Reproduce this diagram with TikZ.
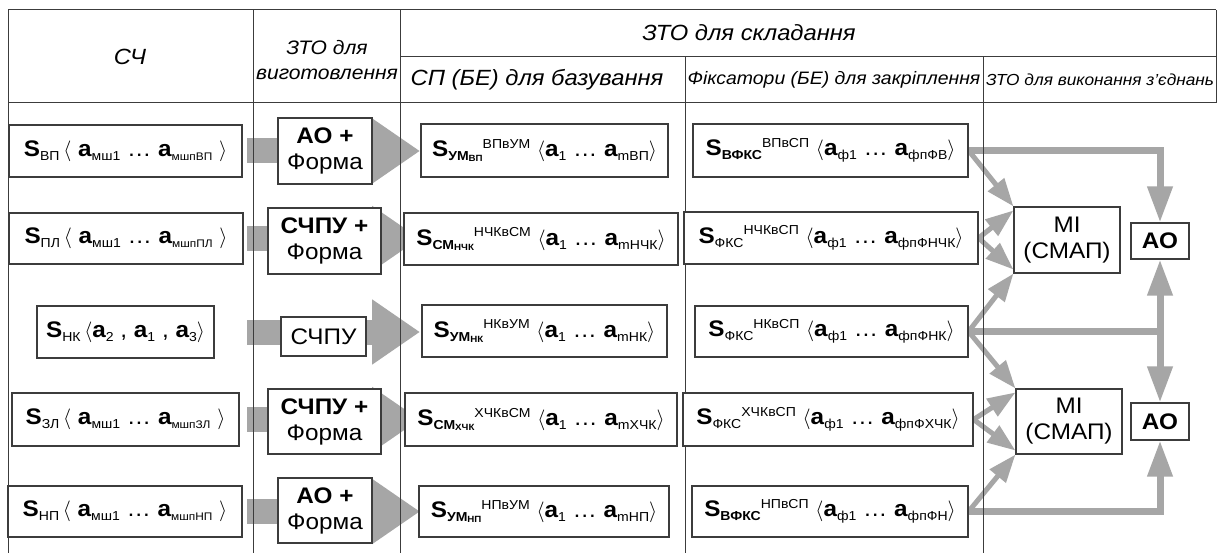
\documentclass[tikz,border=0pt]{standalone}
\usepackage{fontspec}
\usepackage{graphicx}
\setmainfont{Liberation Sans}[FakeStretch=1.08]
\usetikzlibrary{arrows.meta,calc}
\definecolor{agray}{RGB}{166,166,166}
\definecolor{lgray}{RGB}{60,60,60}
\newcommand\mysub[2][13]{\raisebox{-4pt}{\fontsize{#1}{#1}\selectfont #2}}
\newcommand\mysubb[2][9]{\raisebox{-1pt}{\fontsize{#1}{#1}\selectfont #2}}
\newcommand\mysup[2][13]{\raisebox{8.5pt}{\fontsize{#1}{#1}\selectfont #2}}
\newcommand\bS{{\bfseries S}}
\newcommand\ba{{\bfseries a}}
\newcommand\la{$\langle$}
\newcommand\ra{$\rangle$}
\tikzset{
  cell/.style={draw=lgray, line width=1.1pt, fill=white, inner sep=0pt, align=center,
    font=\fontsize{22.5}{26}\selectfont},
  hdr/.style={inner sep=0pt, align=center, font=\fontsize{22}{25}\selectfont\itshape},
  grid/.style={draw=lgray, line width=1pt},
  blockarr/.style={draw=agray, line width=25pt, -{Triangle[length=48pt,width=62pt]}},
  thick conn/.style={draw=agray, line width=7pt, -{Triangle[length=36pt,width=24pt]}},
  diag conn/.style={draw=agray, line width=5pt, -{Triangle[length=28pt,width=20pt]}},
}
\begin{document}
\begin{tikzpicture}[x=1pt,y=-1pt]
\useasboundingbox (0,0) rectangle (1217,553);
\fill[white] (0,0) rectangle (1217,553);

% header texts
\node[hdr] (h1) at (130,57) {СЧ};
\node[hdr, font=\fontsize{19.5}{25}\selectfont\itshape] (h2) at (327,60) {ЗТО для\\виготовлення};
\node[hdr] (h3) at (749,33) {ЗТО для складання};
\node[hdr] (h4) at (537,80) {СП (БЕ) для базування};
\node[hdr, font=\fontsize{18}{22}\selectfont\itshape] (h5) at (834,80) {Фіксатори (БЕ) для закріплення};
\node[hdr, anchor=west, font=\fontsize{16}{22}\selectfont\itshape] (h6) at (986,80) {ЗТО для виконання з'єднань};

% reference coordinates for block arrows
\coordinate (sx) at (247,0);
\coordinate (tx) at (420,0);

% boxes (positions)
\path
 (125.5,151) node[cell, minimum width=233pt, minimum height=52pt] (c1) {\phantom{x}}
 (126,238.5) node[cell, minimum width=234pt, minimum height=51pt] (c2) {\phantom{x}}
 (125.5,332) node[cell, minimum width=177pt, minimum height=52pt] (c3) {\phantom{x}}
 (125.5,419.5) node[cell, minimum width=227pt, minimum height=53pt] (c4) {\phantom{x}}
 (125,511.5) node[cell, minimum width=234pt, minimum height=51pt] (c5) {\phantom{x}};

% block arrows
\foreach \r in {1,...,5}{
  \draw[blockarr] (c\r.east -| sx) -- (c\r.east -| tx);
}

% connectors in the right section
\node[cell, minimum width=275pt, minimum height=53pt] (f1) at (830.5,150.5) {};
\node[cell, minimum width=294pt, minimum height=52pt] (f2) at (831,238) {};
\node[cell, minimum width=273pt, minimum height=51pt] (f3) at (831.5,331.5) {};
\node[cell, minimum width=290pt, minimum height=53pt] (f4) at (828,419.5) {};
\node[cell, minimum width=276pt, minimum height=51pt] (f5) at (830,511.5) {};
\node[cell, minimum width=106pt, minimum height=66pt] (mi1) at (1067,240) {};
\node[cell, minimum width=58pt, minimum height=36pt] (ao1) at (1160,241) {};
\node[cell, minimum width=106pt, minimum height=65pt] (mi2) at (1069,421.5) {};
\node[cell, minimum width=58pt, minimum height=37pt] (ao2) at (1160,421.5) {};

\draw[thick conn] (f1.east) -| (ao1.north);
\draw[thick conn] (f3.east) -| (ao1.south);
\draw[thick conn] (f3.east) -| (ao2.north);
\draw[thick conn] (f5.east) -| (ao2.south);
\draw[diag conn] (f1.east) -- (mi1.north west);
\draw[diag conn] (f2.east) -- ($(mi1.north west)+(0,4)$);
\draw[diag conn] (f2.east) -- ($(mi1.south west)+(0,-4)$);
\draw[diag conn] (f3.east) -- (mi1.south west);
\draw[diag conn] (f3.east) -- (mi2.north west);
\draw[diag conn] (f4.east) -- ($(mi2.north west)+(0,4)$);
\draw[diag conn] (f4.east) -- ($(mi2.south west)+(0,-4)$);
\draw[diag conn] (f5.east) -- (mi2.south west);

% table grid
\draw[grid] (8,10) -- (1216,10);
\draw[grid] (400,57) -- (1216,57);
\draw[grid] (8,103) -- (1216,103);
\draw[grid] (8,10) -- (8,553);
\draw[grid] (253,10) -- (253,553);
\draw[grid] (400,10) -- (400,553);
\draw[grid] (685,57) -- (685,553);
\draw[grid] (983,57) -- (983,553);
\draw[grid] (1216,10) -- (1216,103);

% column 1 boxes with text
\node[cell, minimum width=233pt, minimum height=52pt] at (c1) {\bS\mysub{ВП}\,\la\ \ba\mysub{мш1} … \ba\mysub[11]{мшпВП}\ \ra};
\node[cell, minimum width=234pt, minimum height=51pt] at (c2) {\bS\mysub{ПЛ}\,\la\ \ba\mysub{мш1} … \ba\mysub[11]{мшпПЛ}\ \ra};
\node[cell, minimum width=177pt, minimum height=52pt] at (c3) {\bS\mysub{НК}\,\la\ba\mysub{2} , \ba\mysub{1} , \ba\mysub{3}\ra};
\node[cell, minimum width=227pt, minimum height=53pt] at (c4) {\bS\mysub{ЗЛ}\,\la\ \ba\mysub{мш1} … \ba\mysub[11]{мшпЗЛ}\ \ra};
\node[cell, minimum width=234pt, minimum height=51pt] at (c5) {\bS\mysub{НП}\,\la\ \ba\mysub{мш1} … \ba\mysub[11]{мшпНП}\ \ra};

% column 2
\node[cell, minimum width=94pt, minimum height=66pt] (m1) at (325,151) {\textbf{АО +}\\Форма};
\node[cell, minimum width=113pt, minimum height=66pt] (m2) at (324.5,241) {\textbf{СЧПУ +}\\Форма};
\node[cell, minimum width=85pt, minimum height=39pt] (m3) at (323.5,336.5) {СЧПУ};
\node[cell, minimum width=113pt, minimum height=65pt] (m4) at (324.5,421.5) {\textbf{СЧПУ +}\\Форма};
\node[cell, minimum width=94pt, minimum height=65pt] (m5) at (325,510.5) {\textbf{АО +}\\Форма};

% column 3
\node[cell, minimum width=247pt, minimum height=53pt] (p1) at (544.5,150.5) {\bS\mysub{\bfseries УМ\mysubb{ВП}}\mysup{ВПвУМ}\ \la\ba\mysub{1} … \ba\mysub{mВП}\ra};
\node[cell, minimum width=274pt, minimum height=52pt] (p2) at (541,239) {\bS\mysub{\bfseries СМ\mysubb{НЧК}}\mysup{НЧКвСМ}\ \la\ba\mysub{1} … \ba\mysub{mНЧК}\ra};
\node[cell, minimum width=245pt, minimum height=52pt] (p3) at (544.5,331) {\bS\mysub{\bfseries УМ\mysubb{НК}}\mysup{НКвУМ}\ \la\ba\mysub{1} … \ba\mysub{mНК}\ra};
\node[cell, minimum width=272pt, minimum height=53pt] (p4) at (541,419.5) {\bS\mysub{\bfseries СМ\mysubb{ХЧК}}\mysup{ХЧКвСМ}\ \la\ba\mysub{1} … \ba\mysub{mХЧК}\ra};
\node[cell, minimum width=250pt, minimum height=51pt] (p5) at (544,511.5) {\bS\mysub{\bfseries УМ\mysubb{НП}}\mysup{НПвУМ}\ \la\ba\mysub{1} … \ba\mysub{mНП}\ra};

% column 4 texts
\node[cell, minimum width=275pt, minimum height=53pt] at (f1) {\bS\mysub{\bfseries ВФКС}\mysup{ВПвСП}\ \la\ba\mysub{ф1}\ … \ba\mysub{фпФВ}\ra};
\node[cell, minimum width=294pt, minimum height=52pt] at (f2) {\bS\mysub{ФКС}\mysup{НЧКвСП}\ \la\ba\mysub{ф1}\ … \ba\mysub{фпФНЧК}\ra};
\node[cell, minimum width=273pt, minimum height=51pt] at (f3) {\bS\mysub{ФКС}\mysup{НКвСП}\ \la\ba\mysub{ф1}\ … \ba\mysub{фпФНК}\ra};
\node[cell, minimum width=290pt, minimum height=53pt] at (f4) {\bS\mysub{ФКС}\mysup{ХЧКвСП}\ \la\ba\mysub{ф1}\ … \ba\mysub{фпФХЧК}\ra};
\node[cell, minimum width=276pt, minimum height=51pt] at (f5) {\bS\mysub{\bfseries ВФКС}\mysup{НПвСП}\ \la\ba\mysub{ф1}\ … \ba\mysub{фпФН}\ra};

% right boxes texts
\node[cell, minimum width=106pt, minimum height=66pt] at (mi1) {МІ\\(СМАП)};
\node[cell, minimum width=58pt, minimum height=36pt] at (ao1) {\textbf{АО}};
\node[cell, minimum width=106pt, minimum height=65pt] at (mi2) {МІ\\(СМАП)};
\node[cell, minimum width=58pt, minimum height=37pt] at (ao2) {\textbf{АО}};
\end{tikzpicture}
\end{document}
